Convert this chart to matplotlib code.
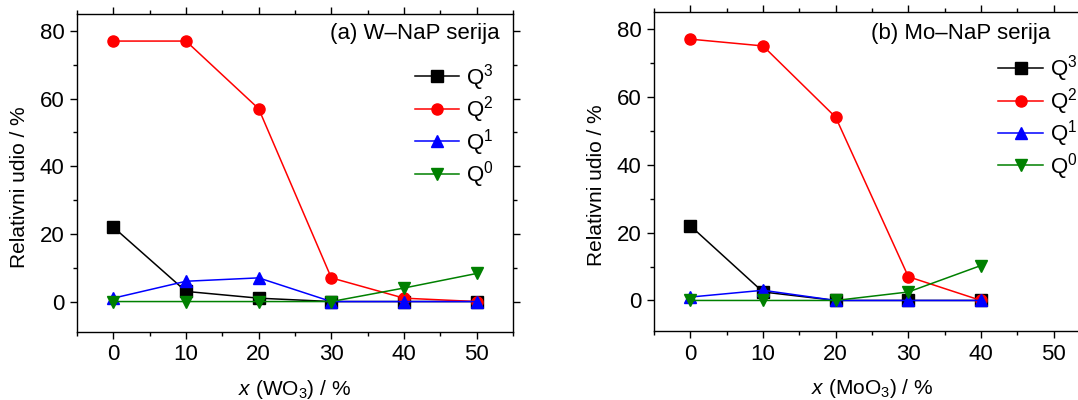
import matplotlib
matplotlib.use("Agg")
import matplotlib.pyplot as plt
from matplotlib.ticker import MultipleLocator

plt.rcParams['font.family'] = ['Liberation Sans', 'DejaVu Sans']
plt.rcParams['mathtext.fontset'] = 'custom'
plt.rcParams['mathtext.rm'] = 'Liberation Sans'
plt.rcParams['mathtext.it'] = 'Liberation Sans:italic'
plt.rcParams['mathtext.bf'] = 'Liberation Sans:bold'

# ---- data ----
x_w = [0, 10, 20, 30, 40, 50]
w_q3 = [22, 3, 1, 0, 0, 0]
w_q2 = [77, 77, 57, 7, 1, 0]
w_q1 = [1, 6, 7, 0, 0, 0]
w_q0 = [0, 0, 0, 0, 4, 8.3]

x_mo = [0, 10, 20, 30, 40]
mo_q3 = [22, 2.5, 0, 0, 0]
mo_q2 = [77, 75, 54, 7, 0]
mo_q1 = [1, 3, 0, 0, 0]
mo_q0 = [0, 0, 0, 2.5, 10.3]

series_labels = [r'Q$^{3}$', r'Q$^{2}$', r'Q$^{1}$', r'Q$^{0}$']
titles = ['(a) W–NaP serija', '(b) Mo–NaP serija']
xlabels = [r'$x$ (WO$_3$) / %', r'$x$ (MoO$_3$) / %']
ylabel = 'Relativni udio / %'
xticks = [0, 10, 20, 30, 40, 50]
yticks = [0, 20, 40, 60, 80]

colors = ['black', 'red', 'blue', 'green']
markers = ['s', 'o', '^', 'v']

fig = plt.figure(figsize=(10.78, 4.0), dpi=100)
W = 1078.0
H = 400.0
ax1 = fig.add_axes([77 / W, 1 - 332 / H, 436 / W, 318 / H])
ax2 = fig.add_axes([654 / W, 1 - 331 / H, 436 / W, 319 / H])

datasets = [
    (ax1, x_w, [w_q3, w_q2, w_q1, w_q0], 0, (0.775, 0.85), 0.97, 0.94),
    (ax2, x_mo, [mo_q3, mo_q2, mo_q1, mo_q0], 1, (0.79, 0.87), 0.91, 0.934),
]

for ax, xs, ys, i, legpos, tx, ty in datasets:
    for y, c, m, lab in zip(ys, colors, markers, series_labels):
        ax.plot(xs, y, color=c, marker=m, markersize=8, linewidth=1.1,
                label=lab, clip_on=False)
    ax.set_xlim(-5, 55)
    ax.set_ylim(-9, 85)
    ax.set_xticks(xticks)
    ax.set_yticks(yticks)
    ax.xaxis.set_minor_locator(MultipleLocator(5))
    ax.yaxis.set_minor_locator(MultipleLocator(10))
    ax.tick_params(which='both', direction='out', labelsize=16, width=1)
    ax.tick_params(which='major', length=5, pad=4)
    ax.tick_params(which='minor', length=3)
    ax.tick_params(which='both', top=True, right=True, labeltop=False, labelright=False)
    for s in ax.spines.values():
        s.set_linewidth(1.0)
    ax.text(tx, ty, titles[i], transform=ax.transAxes, ha='right', va='center',
            fontsize=16)
    ax.set_ylabel(ylabel, fontsize=15)
    ax.yaxis.set_label_coords(-0.131, 0.456)
    ax.yaxis.label.set_verticalalignment('center')
    ax.set_xlabel(xlabels[i], fontsize=15)
    ax.xaxis.set_label_coords(0.5, -0.18)
    ax.xaxis.label.set_verticalalignment('center')
    leg = ax.legend(loc='upper left', bbox_to_anchor=legpos, frameon=False,
                    fontsize=16, handlelength=2.0, handletextpad=0.3,
                    labelspacing=0.07, borderpad=0, borderaxespad=0)

fig.savefig('out.png', dpi=100)
